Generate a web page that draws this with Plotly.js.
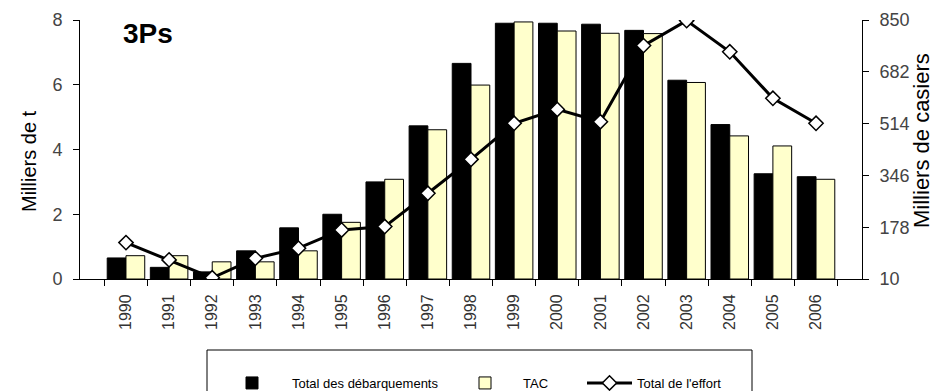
<!DOCTYPE html>
<html>
<head>
<meta charset="utf-8">
<script src="https://cdn.plot.ly/plotly-3.0.1.min.js"></script>
<style>html,body{margin:0;padding:0;background:#fff;}#chart{width:940px;height:391px;}</style>
</head>
<body>
<div id="chart"></div>
<script>
const years = ['1990','1991','1992','1993','1994','1995','1996','1997','1998','1999','2000','2001','2002','2003','2004','2005','2006'];
const debarquements = [0.65, 0.36, 0.22, 0.87, 1.58, 2.0, 3.0, 4.73, 6.66, 7.9, 7.9, 7.87, 7.68, 6.14, 4.77, 3.25, 3.16];
const tac = [0.72, 0.72, 0.53, 0.53, 0.87, 1.75, 3.08, 4.61, 5.99, 7.94, 7.66, 7.59, 7.58, 6.07, 4.42, 4.11, 3.08];
const effort = [128, 72, 14, 77, 110, 169, 180, 288, 398, 515, 560, 520, 767, 848, 747, 596, 515];
const rightTicks = [10, 178, 346, 514, 682, 850];
const leftTicks = [0, 2, 4, 6, 8];

const font = 'Liberation Sans, Arial, sans-serif';

const traces = [
  {type:'bar', x:years, y:debarquements, name:'Total des débarquements', legend:'legend',
   marker:{color:'#000000', line:{color:'#000000', width:1}}},
  {type:'bar', x:years, y:tac, name:'TAC', legend:'legend2',
   marker:{color:'#FFFFCC', line:{color:'#000000', width:1}}},
  {type:'scatter', mode:'lines+markers', x:years, y:effort, yaxis:'y2', name:"Total de l'effort", legend:'legend3',
   line:{color:'#000000', width:3},
   marker:{symbol:'diamond', size:11, color:'#ffffff', line:{color:'#000000', width:1.5}}}
];

const legendBase = {orientation:'h', xref:'container', yref:'container', y:1-383/391, xanchor:'left', yanchor:'middle',
                    font:{family:font, size:13, color:'#000'}, bgcolor:'rgba(0,0,0,0)'};

const layout = {
  width:940, height:391,
  margin:{l:80, r:78, t:20, b:112},
  paper_bgcolor:'#ffffff', plot_bgcolor:'#ffffff',
  font:{family:font, color:'#222'},
  barmode:'group', bargap:0.13, bargroupgap:0,
  showlegend:true,
  legend:Object.assign({}, legendBase, {x:212/940, itemwidth:70}),
  legend2:Object.assign({}, legendBase, {x:447/940, itemwidth:66}),
  legend3:Object.assign({}, legendBase, {x:582/940, itemwidth:45}),
  xaxis:{type:'category', automargin:false, showline:true, linecolor:'#000', linewidth:1, ticks:'outside', tickson:'boundaries',
         ticklen:6, tickcolor:'#000', tickangle:-90, ticklabelstandoff:8, tickfont:{family:font, size:16, color:'#333'},
         showgrid:false, zeroline:false},
  yaxis:{range:[0,8], automargin:false, tickvals:leftTicks, showline:true, linecolor:'#000', linewidth:1, ticks:'outside',
         ticklen:6, tickcolor:'#000', ticklabelstandoff:7, tickfont:{family:font, size:18, color:'#444'}, showgrid:false, zeroline:false},
  yaxis2:{overlaying:'y', automargin:false, side:'right', range:[10,850], tickvals:rightTicks, showline:true, linecolor:'#000', linewidth:1,
          ticks:'outside', ticklen:6, tickcolor:'#000', ticklabelstandoff:7, tickfont:{family:font, size:18, color:'#444'},
          showgrid:false, zeroline:false},
  shapes:[{type:'rect', xref:'paper', yref:'paper', x0:(207-80)/782, x1:(752-80)/782, y0:-(350-279)/259, y1:-(400-279)/259,
           line:{color:'#000', width:1}, fillcolor:'rgba(0,0,0,0)'}],
  annotations:[
    {text:'<b>3Ps</b>', xref:'paper', yref:'paper', x:(121-80)/782, y:(279-33)/259, xanchor:'left', yanchor:'middle',
     showarrow:false, font:{family:font, size:28, color:'#000'}},
    {text:'Milliers de t', xref:'paper', yref:'paper', x:(29-80)/782, y:(279-161)/259, xanchor:'center', yanchor:'middle',
     textangle:-90, showarrow:false, font:{family:font, size:20, color:'#000'}},
    {text:'Milliers de casiers', xref:'paper', yref:'paper', x:(921-80)/782, y:(279-141)/259, xanchor:'center', yanchor:'middle',
     textangle:-90, showarrow:false, font:{family:font, size:22, color:'#000'}}
  ]
};

Plotly.newPlot('chart', traces, layout, {displayModeBar:false, staticPlot:true});
</script>
</body>
</html>
